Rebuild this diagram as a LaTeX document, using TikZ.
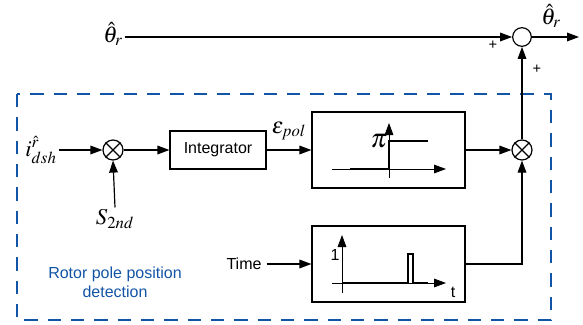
\documentclass[tikz,border=0pt]{standalone}
\usepackage{mathptmx}
\usepackage{fontspec}
\setmainfont{Liberation Sans}
\usetikzlibrary{arrows.meta}
\definecolor{detblue}{RGB}{18,84,166}

\begin{document}
\begin{tikzpicture}[
        x=0.75pt, y=-0.75pt,
        line width=0.9pt,
        >={Triangle[length=9pt,width=6.5pt]},
        block/.style={rectangle, draw, minimum width=72pt, minimum height=28.5pt, font=\fontsize{12}{14}\selectfont},
        plotbox/.style={rectangle, draw, minimum width=114.75pt, minimum height=57pt},
        sumnode/.style={circle, draw, minimum size=14pt, inner sep=0pt},
        mulnode/.style={circle, draw, minimum size=15pt, inner sep=0pt},
        lbl/.style={font=\fontsize{12}{14}\selectfont},
        sgnlbl/.style={font=\fontsize{11}{12}\selectfont},
        mathlbl/.style={font=\fontsize{17}{19}\selectfont, inner sep=1pt}
    ]
        \useasboundingbox (0,0) rectangle (583,325);

        % Detection block frame
        \draw[detblue, line width=2.2pt, dash pattern=on 10pt off 7.5pt] (17,94) rectangle (551,320);

        % Signals and blocks
        \node[mathlbl] (thin) at (113,34) {$\hat{\theta}_r$};
        \node[sumnode] (sum) at (522,37) {};
        \coordinate (thout) at (579,37);
        \node[mathlbl] (thoutl) at (551,16) {$\hat{\theta}_r$};
        \node[mathlbl] (idsh) at (41,150) {$i^{\hat{r}}_{dsh}$};
        \node[mulnode] (mul1) at (113,150) {};
        \node[mathlbl] (s2nd) at (115,219) {$S_{2nd}$};
        \node[block] (integ) at (218,150) {Integrator};
        \node[mathlbl] (epol) at (289,131) {$\varepsilon_{pol}$};
        \node[plotbox] (sgn) at (388.5,150) {};
        \node[plotbox] (pulse) at (388.5,264) {};
        \node[mulnode] (mul2) at (522,150) {};
        \node[lbl] (time) at (244,264) {Time};
        \node[lbl, detblue, align=center] (title) at (115,282) {Rotor pole position\\detection};

        % Signs
        \node[sgnlbl] (plus1) at (493,45) {+};
        \node[sgnlbl] (plus2) at (537,69) {+};

        % Multiplier crosses
        \foreach \m in {mul1,mul2} {
            \draw (\m.north west) -- (\m.south east) (\m.north east) -- (\m.south west);
        }

        % Connections
        \draw[->] (thin.east |- sum.west) -- (sum.west);
        \draw[->] (sum.east) -- (thout);
        \draw[->] (idsh.east |- mul1.west) -- (mul1.west);
        \draw[->] (s2nd.north) -- (mul1.south);
        \draw[->] (mul1.east) -- (integ.west);
        \draw[->] (integ.east) -- (sgn.west);
        \draw[->] (sgn.east) -- (mul2.west);
        \draw[->] (time.east) -- (pulse.west);
        \draw[->] (pulse.east) -| (mul2.south);
        \draw[->] (mul2.north) -- (sum.south);

        % Step curve
        \draw[->, line width=0.6pt] (332,169) -- (446,169);
        \draw[->, line width=0.6pt] (389,178) -- (389,123);
        \draw[line width=2pt] (350,169) -- (389,169) -- (389,141) -- (428,141);
        \node[font=\fontsize{20}{22}\selectfont, inner sep=0pt] (pilbl) at (379,141) {$\pi$};

        % Pulse curve
        \draw[->, line width=0.6pt] (332,283) -- (446,283);
        \draw[->, line width=0.6pt] (342,293) -- (342,235);
        \draw[line width=2pt] (342,283) -- (408,283) -- (408,254) -- (413,254) -- (413,283) -- (428,283);
        \node[lbl, inner sep=0pt] (onelbl) at (335,255) {1};
        \node[lbl, inner sep=0pt] (tlbl) at (453,292) {t};
    \end{tikzpicture}
\end{document}
